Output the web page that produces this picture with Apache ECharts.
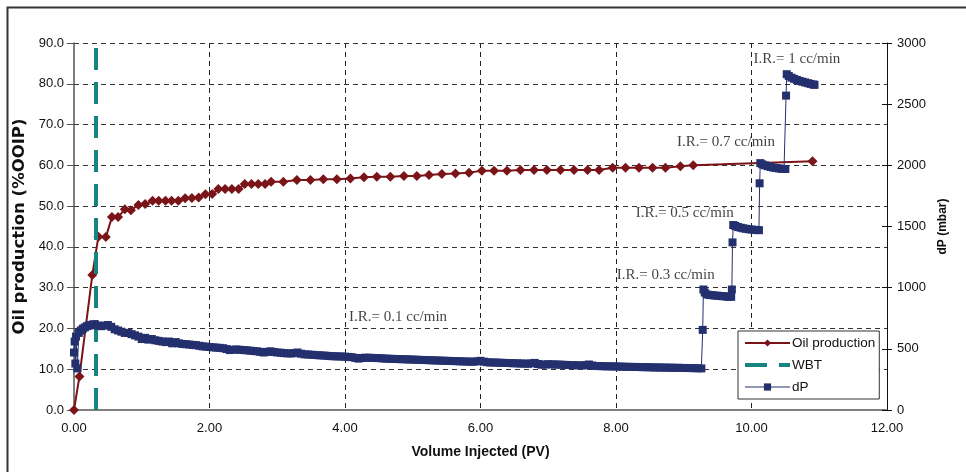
<!DOCTYPE html>
<html>
<head>
<meta charset="utf-8">
<script src="https://cdn.jsdelivr.net/npm/echarts@6/dist/echarts.min.js"></script>
<style>
html,body{margin:0;padding:0;background:#fff;}
#chart{width:966px;height:472px;}
</style>
</head>
<body>
<div id="chart"></div>
<script>
// ---- data ----
const xTicks = [0, 2, 4, 6, 8, 10, 12];
const oilProduction = [
  [0.00,0],[0.08,8.2],[0.27,33.1],[0.36,42.5],[0.47,42.4],[0.56,47.3],[0.65,47.3],[0.75,49.2],[0.84,49.0],
  [0.95,50.3],[1.05,50.5],[1.16,51.3],[1.25,51.3],[1.35,51.3],[1.44,51.3],[1.54,51.3],[1.64,51.9],
  [1.74,52.0],[1.84,52.1],[1.94,52.9],[2.04,53.0],[2.13,54.2],[2.23,54.2],[2.33,54.2],[2.43,54.2],
  [2.52,55.4],[2.62,55.4],[2.72,55.4],[2.82,55.4],[2.91,56.0],[3.09,56.0],[3.29,56.4],[3.49,56.4],
  [3.68,56.6],[3.88,56.6],[4.08,56.8],[4.28,57.1],[4.47,57.2],[4.67,57.2],[4.87,57.4],[5.06,57.4],
  [5.24,57.6],[5.43,57.9],[5.63,58.0],[5.83,58.2],[6.02,58.7],[6.20,58.7],[6.39,58.7],[6.59,58.85],
  [6.79,58.85],[6.98,58.85],[7.18,58.85],[7.38,58.85],[7.58,58.85],[7.75,58.85],[7.95,59.4],[8.14,59.4],
  [8.34,59.4],[8.54,59.4],[8.73,59.4],[8.95,59.8],[9.14,60.0],[10.90,61.0]
];
const wbt = [[0.325,0],[0.325,90]];
const dP = [
  [0.00,470],[0.01,560],[0.02,380],[0.03,600],[0.05,340],[0.07,630],[0.10,650],[0.13,665],[0.16,675],
  [0.19,685],[0.22,690],[0.25,695],[0.28,700],[0.31,700],[0.35,690],[0.40,685],[0.45,690],[0.50,695],
  [0.55,680],[0.60,660],[0.65,650],[0.70,640],[0.75,630],[0.80,630],[0.85,620],[0.90,610],[0.95,600],
  [1.00,580],[1.05,590],[1.10,575],[1.15,580],[1.20,570],[1.25,565],[1.30,560],[1.35,555],[1.40,560],
  [1.45,545],[1.50,555],[1.55,545],[1.60,540],[1.65,538],[1.70,535],[1.75,532],[1.80,530],[1.85,525],[1.90,520],[1.95,518],[2.00,515],[2.05,512],[2.10,510],
  [2.15,508],[2.20,505],[2.25,498],[2.30,490],[2.35,493],[2.40,495],[2.45,492],[2.50,490],[2.55,488],[2.60,485],[2.65,482],[2.70,480],[2.75,475],[2.80,470],[2.85,475],[2.90,480],[2.95,474],[3.00,470],
  [3.05,468],[3.10,465],[3.15,463],[3.20,462],[3.25,465],[3.30,470],[3.35,460],[3.40,455],[3.45,454],[3.50,452],[3.55,450],[3.60,448],[3.65,446],[3.70,445],[3.75,442],[3.80,440],[3.85,439],[3.90,438],
  [3.95,437],[4.00,436],[4.05,434],[4.10,432],[4.15,426],[4.20,420],[4.25,425],[4.30,428],[4.35,427],[4.40,426],[4.45,425],[4.50,424],[4.55,422],[4.60,420],[4.65,419],[4.70,418],[4.75,417],[4.80,416],
  [4.85,415],[4.90,414],[4.95,413],[5.00,412],[5.05,411],[5.10,410],[5.15,409],[5.20,408],[5.25,407],[5.30,406],[5.35,405],[5.40,404],[5.45,403],[5.50,402],[5.55,401],[5.60,400],[5.65,399],[5.70,398],
  [5.75,397],[5.80,396],[5.85,395],[5.90,395],[5.95,398],[6.00,402],[6.05,395],[6.10,390],[6.15,389],[6.20,388],[6.25,387],[6.30,386],[6.35,385],[6.40,384],[6.45,383],[6.50,382],[6.55,381],[6.60,380],
  [6.65,379],[6.70,378],[6.75,381],[6.80,385],[6.85,376],[6.90,370],[6.95,372],[7.00,374],[7.05,373],[7.10,372],[7.15,371],[7.20,370],[7.25,369],[7.30,368],[7.35,367],[7.40,366],[7.45,365],[7.50,364],
  [7.55,367],[7.60,372],[7.65,364],[7.70,360],[7.75,359],[7.80,358],[7.85,357],[7.90,357],[7.95,356],[8.00,356],[8.05,355],[8.10,354],[8.15,353],[8.20,353],[8.25,352],[8.30,352],[8.35,351],[8.40,350],
  [8.45,350],[8.50,349],[8.55,348],[8.60,348],[8.65,347],[8.70,347],[8.75,346],[8.80,346],[8.85,345],[8.90,345],[8.95,344],[9.00,344],[9.05,343],[9.10,343],[9.15,342],[9.20,341],[9.26,340],
  [9.28,655],[9.29,985],[9.31,960],[9.34,945],[9.38,940],[9.42,938],[9.46,936],[9.50,934],[9.54,932],
  [9.58,930],[9.62,928],[9.66,926],[9.70,925],[9.71,985],
  [9.72,1370],[9.73,1512],[9.76,1505],[9.80,1496],[9.84,1490],[9.88,1485],[9.92,1481],[9.96,1478],
  [10.00,1475],[10.04,1473],[10.08,1471],[10.11,1470],
  [10.12,1853],[10.13,2018],[10.16,2008],[10.20,2000],[10.24,1993],[10.28,1987],[10.32,1982],[10.36,1978],
  [10.40,1975],[10.44,1972],[10.48,1970],[10.50,1970],
  [10.51,2570],[10.52,2745],[10.55,2730],[10.59,2717],[10.63,2707],[10.67,2698],[10.71,2690],[10.75,2684],
  [10.79,2678],[10.83,2672],[10.87,2666],[10.91,2661],[10.93,2658]
];
const annotations = [
  [4.06, 22.8, 'I.R.= 0.1 cc/min'],
  [8.01, 33.1, 'I.R.= 0.3 cc/min'],
  [8.29, 48.3, 'I.R.= 0.5 cc/min'],
  [8.90, 65.7, 'I.R.= 0.7 cc/min'],
  [10.03, 86.1, 'I.R.= 1 cc/min']
];
const seriesNames = ['Oil production', 'WBT', 'dP'];

// ---- chart ----
const chart = echarts.init(document.getElementById('chart'), null, {renderer: 'canvas'});
const SANS = 'Liberation Sans, Arial, sans-serif';
const RED = '#7B1418', TEAL = '#16857F', NAVY = '#24306E';
const gridLine = {show: true, lineStyle: {color: '#222', width: 1, type: [5, 4]}};
const option = {
  animation: false,
  backgroundColor: '#fff',
  graphic: [{
    type: 'rect', left: 5, top: 5, shape: {width: 980, height: 490},
    style: {fill: 'none', stroke: '#333', lineWidth: 2}, silent: true
  }],
  grid: {left: 74, right: 79, top: 43, bottom: 62, containLabel: false},
  legend: {
    data: [
      {name: seriesNames[0], lineStyle: {color: RED, width: 2}},
      {name: seriesNames[1], itemStyle: {opacity: 0}, lineStyle: {color: TEAL, width: 4, type: [22, 12]}},
      {name: seriesNames[2], lineStyle: {color: NAVY, width: 1.2}}
    ],
    orient: 'vertical', left: 738, top: 331,
    backgroundColor: '#fff', borderColor: '#333', borderWidth: 1,
    padding: [5, 4, 5, 5], itemGap: 8, itemWidth: 45, itemHeight: 9,
    textStyle: {fontFamily: SANS, fontSize: 13.5, color: '#111', padding: [0, 0, 0, -3]}
  },
  xAxis: {
    type: 'value', min: 0, max: 12, interval: 2,
    name: 'Volume Injected (PV)', nameLocation: 'middle', nameGap: 35,
    nameTextStyle: {fontFamily: SANS, fontSize: 14, fontWeight: 'bold', color: '#111'},
    axisLine: {show: true, onZero: false, lineStyle: {color: '#555', width: 1.5}},
    axisTick: {show: false},
    axisLabel: {fontFamily: SANS, fontSize: 13, color: '#111', margin: 12,
      formatter: v => xTicks.includes(v) ? v.toFixed(2) : ''},
    splitLine: Object.assign({showMinLine: false, showMaxLine: false}, gridLine)
  },
  yAxis: [{
    type: 'value', min: 0, max: 90, interval: 10, position: 'left',
    name: 'Oil production (%OOIP)', nameLocation: 'middle', nameGap: 45, nameRotate: 90,
    nameTextStyle: {fontFamily: 'DejaVu Sans, sans-serif', fontSize: 16.5, fontWeight: 'bold', color: '#111'},
    axisLine: {show: true, lineStyle: {color: '#555', width: 1.5}},
    axisTick: {show: true, length: 7, lineStyle: {color: '#555'}},
    axisLabel: {fontFamily: SANS, fontSize: 13, color: '#111', margin: 10, formatter: v => v.toFixed(1)},
    splitLine: {show: true, showMinLine: false, showMaxLine: true, lineStyle: {color: '#333', width: 1, type: [5, 4]}}
  }, {
    type: 'value', min: 0, max: 3000, interval: 500, position: 'right',
    name: 'dP (mbar)', nameLocation: 'middle', nameGap: 48, nameRotate: 90,
    nameTextStyle: {fontFamily: SANS, fontSize: 12, fontWeight: 'bold', color: '#111'},
    axisLine: {show: true, lineStyle: {color: '#111', width: 1}},
    axisTick: {show: true, length: 5, lineStyle: {color: '#111'}},
    axisLabel: {fontFamily: SANS, fontSize: 13, color: '#111', margin: 10, formatter: v => String(v)},
    splitLine: {show: false}
  }, {
    type: 'value', min: 0, max: 3000, interval: 500, position: 'right',
    axisLine: {show: false},
    axisTick: {show: true, inside: true, length: 5, lineStyle: {color: '#111'}},
    axisLabel: {show: false},
    splitLine: {show: false}
  }],
  series: [{
    name: 'Oil production', type: 'line', yAxisIndex: 0, data: oilProduction,
    symbol: 'diamond', symbolSize: 10, showSymbol: true,
    lineStyle: {color: RED, width: 2},
    itemStyle: {color: RED}, z: 3
  }, {
    name: 'WBT', type: 'line', yAxisIndex: 0, data: wbt, symbol: 'none',
    lineStyle: {color: TEAL, width: 4, type: [22, 12]},
    itemStyle: {color: TEAL}, z: 4
  }, {
    name: 'dP', type: 'line', yAxisIndex: 1, data: dP,
    symbol: 'rect', symbolSize: 8, showSymbol: true,
    lineStyle: {color: NAVY, width: 1},
    itemStyle: {color: NAVY}, z: 5
  }, {
    name: 'annotations', type: 'scatter', yAxisIndex: 0, data: annotations,
    symbolSize: 0, silent: true, z: 6,
    label: {show: true, position: 'right', distance: 0,
      formatter: p => p.value[2],
      fontFamily: 'Liberation Serif, Times New Roman, serif', fontSize: 15, color: '#111'}
  }]
};
chart.setOption(option);
</script>
</body>
</html>
